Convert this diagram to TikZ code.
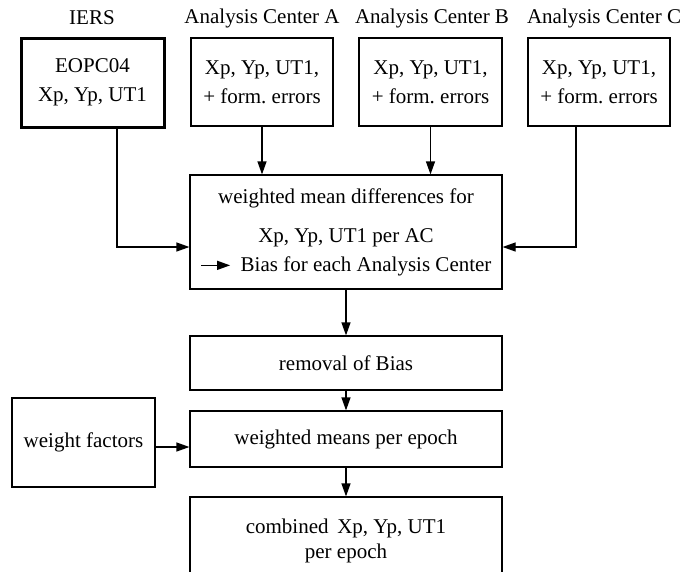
\documentclass[tikz,border=0pt]{standalone}
\usepackage{fontspec}
\setmainfont{Liberation Serif}
\usetikzlibrary{arrows.meta}
\usetikzlibrary{positioning}
\frenchspacing

\begin{document}
\begin{tikzpicture}[x=1pt,y=-1pt,
    every node/.style={font=\fontsize{21}{29}\selectfont},
    box/.style={draw,line width=1.2pt,align=center,inner sep=0pt},
    iersbox/.style={box,line width=3pt},
    conn/.style={line width=1.2pt,-{Triangle[length=13pt,width=9pt]}}]
  \useasboundingbox (0,0) rectangle (685,571);
  \clip (0,0) rectangle (685,571);
  % sources
  \node (liers) at (92,18) {IERS};
  \node (lacA) at (262,18) {Analysis Center A};
  \node (lacB) at (432,18) {Analysis Center B};
  \node (lacC) at (604,18) {Analysis Center C};
  \node[iersbox,minimum width=143pt,minimum height=89pt] (iers) at (92.5,82.5) {EOPC04\\Xp, Yp, UT1};
  \node[box,minimum width=142pt,minimum height=88pt] (acA) at (262,82) {Xp, Yp, UT1,\\+ form. errors};
  \node[box,minimum width=143pt,minimum height=88pt] (acB) at (430.5,82) {Xp, Yp, UT1,\\+ form. errors};
  \node[box,minimum width=142pt,minimum height=88pt] (acC) at (599,82) {Xp, Yp, UT1,\\+ form. errors};
  % combination steps
  \node[box,minimum width=312pt,minimum height=114pt] (wmd) at (346,232)
    {weighted mean differences for\\[10pt]Xp, Yp, UT1 per AC\\
     \tikz[baseline=-0.6ex]\draw[conn] (0pt,0pt) -- (29pt,0pt);\hspace{10pt}Bias for each Analysis Center};
  \node[box,minimum width=312pt,minimum height=54pt] (removal) at (346,363) {removal of Bias};
  \node[box,minimum width=312pt,minimum height=56pt] (means) at (346,439) {weighted means per epoch};
  \node[box,minimum width=143pt,minimum height=89pt] (weight) at (83.5,442.5) {weight factors};
  \node[box,minimum width=312pt,minimum height=88pt] (combined) at (346,541) {combined\, Xp, Yp, UT1\\[-4pt]per epoch};
  % connectors
  \draw[conn] ([xshift=24.5pt]iers.south) |- ([yshift=-15pt]wmd.west);
  \draw[conn] (acA.south) -- (acA.south |- wmd.north);
  \draw[conn] (acB.south) -- (acB.south |- wmd.north);
  \draw[conn] ([xshift=-23pt]acC.south) |- ([yshift=-15pt]wmd.east);
  \draw[conn] (wmd.south) -- (removal.north);
  \draw[conn] (removal.south) -- (means.north);
  \draw[conn] ([yshift=-4.5pt]weight.east) -- ([yshift=-4.5pt]weight.east -| means.west);
  \draw[conn] (means.south) -- (combined.north);
\end{tikzpicture}
\end{document}
